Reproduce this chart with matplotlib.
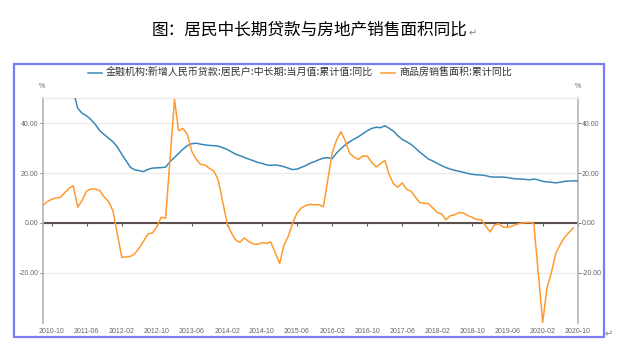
import matplotlib

matplotlib.use("Agg")
import matplotlib.pyplot as plt
import matplotlib.dates as mdates
from matplotlib.patches import Rectangle
import numpy as np
import pandas as pd

plt.rcParams["font.family"] = ["Liberation Sans", "Noto Sans CJK SC", "DejaVu Sans"]

nan = np.nan

# 商品房销售面积:累计同比, monthly 2010-08 .. 2020-09 (no January figure)
sales_area = [
    7.0, 8.5, 9.5, 10.0, 10.3,                                           # 2010 Aug-Dec
    nan, 14.0, 14.9, 6.4, 9.0, 12.8, 13.6, 13.6, 13.0, 10.5, 8.6, 5.0,    # 2011
    nan, -13.8, -13.6, -13.4, -12.4, -10.0, -7.3, -4.4, -4.0, -1.5, 2.3, 1.9,  # 2012
    nan, 49.5, 37.0, 37.9, 35.6, 28.7, 25.6, 23.5, 23.2, 21.9, 20.8, 17.3,  # 2013
    nan, -0.1, -3.8, -6.8, -7.8, -6.0, -7.5, -8.4, -8.6, -7.9, -8.2, -7.6,  # 2014
    nan, -16.3, -9.2, -5.4, -0.2, 3.9, 6.0, 7.0, 7.5, 7.2, 7.4, 6.5,      # 2015
    nan, 28.2, 33.1, 36.6, 33.0, 27.9, 26.4, 25.5, 26.9, 26.8, 24.3, 22.5,  # 2016
    nan, 25.1, 19.5, 15.7, 14.3, 16.1, 13.5, 12.7, 10.3, 8.2, 7.9, 7.7,   # 2017
    nan, 4.1, 3.6, 1.3, 2.9, 3.3, 4.2, 4.0, 2.9, 2.2, 1.4, 1.3,           # 2018
    nan, -3.6, -0.9, -0.3, -1.6, -1.8, -1.3, -0.6, -0.1, 0.1, 0.2, -0.1,  # 2019
    nan, -39.9, -26.3, -19.9, -12.3, -8.7, -5.8, -3.8, -2.0,              # 2020 Jan-Sep
]

# 居民户中长期贷款 累计同比, monthly 2011-02 .. 2020-10
loans = [
    62.0, 53.0, 46.0, 44.0, 43.0, 41.5, 39.5, 37.0, 35.5, 34.0, 32.6,    # 2011 Feb-Dec
    30.5, 27.5, 25.0, 22.3, 21.3, 21.0, 20.6, 21.5, 22.0, 22.1, 22.2, 22.4,  # 2012
    24.6, 26.3, 27.9, 29.6, 31.0, 31.8, 32.0, 31.6, 31.3, 31.1, 31.0, 30.8,  # 2013
    30.2, 29.5, 28.6, 27.6, 27.0, 26.3, 25.6, 25.0, 24.3, 23.9, 23.3, 23.1,  # 2014
    23.3, 23.0, 22.6, 22.0, 21.4, 21.6, 22.3, 23.0, 24.0, 24.6, 25.4, 26.0,  # 2015
    26.2, 25.8, 28.0, 29.8, 31.3, 32.6, 33.6, 34.6, 35.8, 37.0, 37.9, 38.4,  # 2016
    38.2, 39.0, 38.0, 36.8, 35.0, 33.5, 32.6, 31.5, 30.0, 28.4, 27.0, 25.6,  # 2017
    24.8, 23.8, 23.0, 22.2, 21.6, 21.1, 20.7, 20.3, 19.8, 19.5, 19.3, 19.2,  # 2018
    19.0, 18.5, 18.4, 18.4, 18.4, 18.2, 17.9, 17.7, 17.6, 17.5, 17.3, 17.6,  # 2019
    17.3, 16.7, 16.5, 16.3, 16.1, 16.3, 16.7, 16.8, 16.9, 16.8,          # 2020 Jan-Oct
]

loan_label = "金融机构:新增人民币贷款:居民户:中长期:当月值:累计值:同比"
sales_label = "商品房销售面积:累计同比"
title = "图：居民中长期贷款与房地产销售面积同比"
y_ticks = [-20, 0, 20, 40]

sales = pd.Series(sales_area, index=pd.date_range("2010-08-01", periods=len(sales_area), freq="MS")).dropna()
loan = pd.Series(loans, index=pd.date_range("2011-02-01", periods=len(loans), freq="MS"))
tick_dates = pd.date_range("2010-10-01", "2020-10-01", freq="8MS")

BLUE, ORANGE, GRAY = "#3a87b9", "#ff9a2e", "#666666"

fig = plt.figure(figsize=(6.2, 3.56), dpi=100)
ax = fig.add_axes([0.0689, 0.0935, 0.8629, 0.6304])

ax.plot(loan.index, loan.values, color=BLUE, lw=1.1, label=loan_label, zorder=3)
ax.plot(sales.index, sales.values, color=ORANGE, lw=1.1, label=sales_label, zorder=3)
ax.axhline(0, color="#5b5050", lw=1.5, zorder=2)

ax.set_xlim(pd.Timestamp("2010-08-01"), pd.Timestamp("2020-10-01"))
ax.set_ylim(-40, 50)
ax.set_yticks(y_ticks)
ax.yaxis.set_major_formatter(plt.FormatStrFormatter("%.2f"))
ax.yaxis.set_ticks_position("both")
ax.tick_params(axis="y", labelright=True, labelsize=5, colors=GRAY, length=2, width=0.6, pad=1)
ax.set_xticks(tick_dates)
ax.xaxis.set_major_formatter(mdates.DateFormatter("%Y-%m"))
ax.tick_params(axis="x", labelsize=5, colors=GRAY, length=0, pad=4)
ax.grid(axis="y", color="#ebebeb", lw=1.0, zorder=0)

for side in ("left", "right"):
    ax.spines[side].set_color("#b4b4b4")
    ax.spines[side].set_linewidth(1.2)
ax.spines["top"].set_color("#ebebeb")
ax.spines["top"].set_linewidth(1.0)
ax.spines["bottom"].set_visible(False)

# small tick marks hanging off the zero line
zero_ax = ax.secondary_xaxis(40 / 90)
zero_ax.set_xticks(mdates.date2num(tick_dates), labels=[])
zero_ax.tick_params(length=2, width=0.8, color="#5b5050", direction="out")
for sp in zero_ax.spines.values():
    sp.set_visible(False)

fig.text(42 / 620, 1 - 86 / 356, "%", ha="center", va="center", fontsize=5, color=GRAY)
fig.text(578 / 620, 1 - 86 / 356, "%", ha="center", va="center", fontsize=5, color=GRAY)

fig.legend(loc="center", bbox_to_anchor=(300 / 620, 1 - 73 / 356), ncol=2, frameon=False,
           handlelength=1.4, handletextpad=0.4, columnspacing=0.8,
           labelcolor="#333333", prop={"family": ["Noto Sans CJK SC", "DejaVu Sans"], "size": 7.2})

fig.patches.append(Rectangle((14 / 620, 1 - 336.5 / 356), 589.5 / 620, 272.5 / 356,
                             transform=fig.transFigure, fill=False, ec="#7b7bf5", lw=1.6))

fig.text(0.5, 1 - 30 / 356, title, ha="center", va="center", fontsize=12,
         family=["Noto Sans CJK SC", "DejaVu Sans"], color="black")
fig.text(473 / 620, 1 - 33 / 356, "↵", ha="center", va="center", fontsize=7,
         family=["DejaVu Sans"], color="#888888")
fig.text(609 / 620, 1 - 334 / 356, "↵", ha="center", va="center", fontsize=7,
         family=["DejaVu Sans"], color="#888888")

fig.savefig("out.png", dpi=100)
